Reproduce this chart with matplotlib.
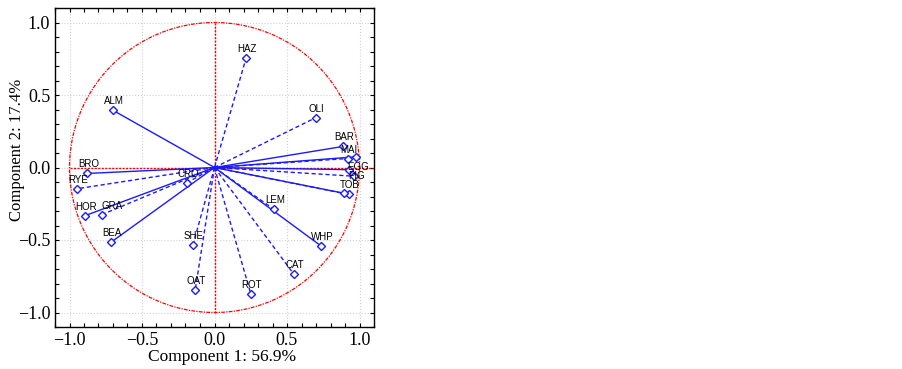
import numpy as np
import matplotlib.pyplot as plt
from matplotlib.ticker import MultipleLocator

# loadings on the first two components
names = ['HAZ', 'ALM', 'OLI', 'BAR', 'MAI', '', 'EGG', 'PIG', 'TOB', '',
         'BRO', 'RYE', 'CRO', 'HOR', 'GRA', 'BEA', 'SHE', 'OAT', 'ROT',
         'CAT', 'LEM', 'WHP']
comp1 = [0.218, -0.703, 0.697, 0.885, 0.920, 0.977, 0.930, 0.960, 0.927, 0.890,
         -0.876, -0.945, -0.190, -0.892, -0.777, -0.713, -0.149, -0.133, 0.251,
         0.547, 0.409, 0.736]
comp2 = [0.755, 0.396, 0.343, 0.145, 0.062, 0.074, -0.015, -0.060, -0.186, -0.177,
         -0.041, -0.146, -0.105, -0.332, -0.325, -0.515, -0.535, -0.844, -0.874,
         -0.735, -0.288, -0.542]
dashed = [True, False, True, False, True, False, False, True, True, False,
          False, True, True, False, True, False, True, True, True,
          True, True, False]

# label nudges (pixels) where the reference shifts them
label_off = {'EGG': (9, 3), 'PIG': (3, 0), 'GRA': (10, 9)}

fig = plt.figure(figsize=(9.02, 3.69), dpi=100)
ax = fig.add_axes([55 / 902, 42 / 369, 319 / 902, 319 / 369])

blue = '#1a1aff'
for x, y, n, d in zip(comp1, comp2, names, dashed):
    ax.plot([0, x], [0, y], color=blue, lw=1.0,
            ls=(0, (3, 2)) if d else '-', zorder=3)
    ax.plot(x, y, marker='D', ms=4.5, mfc='white', mec=blue, mew=1.0, zorder=4)
    if n:
        dx, dy = label_off.get(n, (1, 9))
        ax.annotate(n, (x, y), xytext=(dx, dy), textcoords='offset pixels',
                    ha='center', va='center', fontsize=7,
                    family='Liberation Sans', zorder=5)

# unit circle and axes through the origin
t = np.linspace(0, 2 * np.pi, 400)
ax.plot(np.cos(t), np.sin(t), color='red', lw=0.9, ls=(0, (3, 1, 1, 1)), zorder=2)
ax.plot([-1, 1.1], [0, 0], color='red', lw=1.0, ls=(0, (1.5, 1)), zorder=2)
ax.plot([0, 0], [-1, 1], color='red', lw=1.0, ls=(0, (1.5, 1)), zorder=2)

ax.set_xlim(-1.1, 1.1)
ax.set_ylim(-1.1, 1.1)
ax.xaxis.set_major_locator(MultipleLocator(0.5))
ax.yaxis.set_major_locator(MultipleLocator(0.5))
ax.xaxis.set_minor_locator(MultipleLocator(0.1))
ax.yaxis.set_minor_locator(MultipleLocator(0.1))
ax.tick_params(which='both', direction='in', top=True, right=True,
               length=3, width=0.8, labelsize=13)
ax.grid(True, which='major', color='#d0d0d8', ls=':', lw=0.8)
ax.set_axisbelow(True)
for sp in ax.spines.values():
    sp.set_linewidth(1.0)

fmt = lambda v, p: ('%.1f' % v).replace('-', '\u2212')
ax.xaxis.set_major_formatter(fmt)
ax.yaxis.set_major_formatter(fmt)
for lab in ax.get_xticklabels() + ax.get_yticklabels():
    lab.set_family('Liberation Serif')

ax.set_xlabel('Component 1: 56.9%', family='Liberation Serif', fontsize=12.5, va='center')
ax.set_ylabel('Component 2: 17.4%', family='Liberation Serif', fontsize=12, va='center')
ax.xaxis.set_label_coords(0.525, -0.094)
ax.yaxis.set_label_coords(-0.119, 0.555)

fig.savefig('out.png', dpi=100)
